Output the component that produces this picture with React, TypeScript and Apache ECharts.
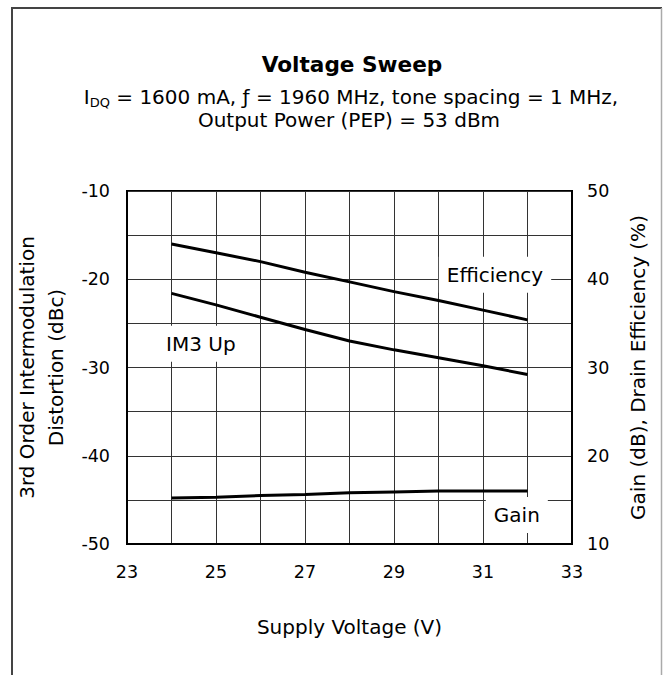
import React, { useEffect, useRef } from "react";
import * as echarts from "echarts";

const voltages = [24, 25, 26, 27, 28, 29, 30, 31, 32];
const im3Up = [-21.6, -22.9, -24.3, -25.7, -27.0, -28.0, -28.9, -29.8, -30.8];
const efficiency = [44.0, 43.0, 42.0, 40.8, 39.7, 38.6, 37.6, 36.5, 35.4];
const gain = [15.2, 15.3, 15.5, 15.6, 15.8, 15.9, 16.0, 16.0, 16.0];

const FONT = '"DejaVu Sans", sans-serif';

export default function App() {
  const ref = useRef<HTMLDivElement>(null);
  useEffect(() => {
    if (!ref.current) return;
    const chart = echarts.init(ref.current, null, { renderer: "svg" });
    const lineStyle = { color: "#000", width: 3 };
    const option: any = {
      animation: false,
      backgroundColor: "#fff",
      textStyle: { fontFamily: FONT, color: "#000" },
      grid: {
        left: 127,
        top: 191,
        width: 445,
        height: 353,
        show: true,
        borderColor: "#000",
        borderWidth: 2,
        backgroundColor: "transparent",
      },
      xAxis: {
        type: "value",
        min: 23,
        max: 33,
        interval: 1,
        name: "Supply Voltage (V)",
        nameLocation: "middle",
        nameGap: 83,
        nameTextStyle: { fontSize: 20, fontFamily: FONT, color: "#000", verticalAlign: "middle" },
        axisLine: { show: true, lineStyle: { color: "#000", width: 2 } },
        axisTick: { show: false },
        axisLabel: {
          margin: 19,
          fontSize: 17.5,
          fontFamily: FONT,
          color: "#000",
          formatter: (v: number) => (Math.abs(v % 2) === 1 ? String(v) : ""),
        },
        splitLine: { show: true, lineStyle: { color: "#333", width: 1 } },
      },
      yAxis: [
        {
          type: "value",
          min: -50,
          max: -10,
          interval: 5,
          position: "left",
          name: "3rd Order Intermodulation\nDistortion (dBc)",
          nameLocation: "middle",
          nameRotate: 90,
          nameGap: 79.5,
          nameTextStyle: {
            fontSize: 20,
            lineHeight: 29,
            fontFamily: FONT,
            color: "#000",
            align: "center",
            verticalAlign: "middle",
          },
          axisLine: { show: true, lineStyle: { color: "#000", width: 2 } },
          axisTick: { show: false },
          axisLabel: {
            margin: 17,
            fontSize: 17.5,
            fontFamily: FONT,
            color: "#000",
            formatter: (v: number) => (v % 10 === 0 ? String(v) : ""),
          },
          splitLine: { show: true, lineStyle: { color: "#333", width: 1 } },
        },
        {
          type: "value",
          min: 10,
          max: 50,
          interval: 5,
          position: "right",
          name: "Gain (dB), Drain Efficiency (%)",
          nameLocation: "middle",
          nameRotate: 90,
          nameGap: 66,
          nameTextStyle: {
            fontSize: 20,
            fontFamily: FONT,
            color: "#000",
            align: "center",
            verticalAlign: "middle",
          },
          axisLine: { show: true, lineStyle: { color: "#000", width: 2 } },
          axisTick: { show: false },
          axisLabel: {
            margin: 15,
            fontSize: 17.5,
            fontFamily: FONT,
            color: "#000",
            formatter: (v: number) => (v % 10 === 0 ? String(v) : ""),
          },
          splitLine: { show: false },
        },
      ],
      series: [
        {
          name: "IM3 Up",
          type: "line",
          yAxisIndex: 0,
          symbol: "none",
          lineStyle,
          data: voltages.map((v, i) => [v, im3Up[i]]),
        },
        {
          name: "Efficiency",
          type: "line",
          yAxisIndex: 1,
          symbol: "none",
          lineStyle,
          data: voltages.map((v, i) => [v, efficiency[i]]),
        },
        {
          name: "Gain",
          type: "line",
          yAxisIndex: 1,
          symbol: "none",
          lineStyle,
          data: voltages.map((v, i) => [v, gain[i]]),
        },
      ],
    };
    chart.setOption(option);

    const toPx = (x: number, y: number) =>
      chart.convertToPixel({ xAxisIndex: 0, yAxisIndex: 0 }, [x, y]) as number[];
    const noteStyle = (text: string, pad: number[]) => ({
      text,
      font: `20px ${FONT}`,
      fill: "#000",
      align: "center",
      verticalAlign: "middle",
      backgroundColor: "#fff",
      padding: pad,
    });
    const pEff = toPx(31.27, -19.5);
    const pIm3 = toPx(24.66, -27.3);
    const pGain = toPx(31.76, -46.7);

    chart.setOption({
      graphic: [
        { type: "line", shape: { x1: 12, y1: 8, x2: 12, y2: 680 }, style: { stroke: "#444", lineWidth: 2 } },
        { type: "line", shape: { x1: 11, y1: 8, x2: 662, y2: 8 }, style: { stroke: "#444", lineWidth: 2 } },
        { type: "line", shape: { x1: 661.5, y1: 8, x2: 661.5, y2: 680 }, style: { stroke: "#aaa", lineWidth: 1.5 } },
        {
          type: "text",
          x: 352,
          y: 64.5,
          style: {
            text: "Voltage Sweep",
            font: `bold 21.6px ${FONT}`,
            fill: "#000",
            align: "center",
            verticalAlign: "middle",
          },
        },
        {
          type: "text",
          x: 351,
          y: 97,
          style: {
            text: "{n|I}{s|DQ}{n| = 1600 mA, ƒ = 1960 MHz, tone spacing = 1 MHz,}",
            fill: "#000",
            align: "center",
            verticalAlign: "middle",
            rich: {
              n: { fontSize: 20, fontFamily: FONT, fill: "#000" },
              s: { fontSize: 13, fontFamily: FONT, fill: "#000", padding: [11, 0, 0, 0] },
            },
          },
        },
        {
          type: "text",
          x: 349,
          y: 120,
          style: {
            text: "Output Power (PEP) = 53 dBm",
            font: `20px ${FONT}`,
            fill: "#000",
            align: "center",
            verticalAlign: "middle",
          },
        },
        { type: "text", x: pEff[0], y: pEff[1], z: 10, style: noteStyle("Efficiency", [8, 8, 8, 8]) },
        { type: "text", x: pIm3[0], y: pIm3[1], z: 10, style: noteStyle("IM3 Up", [8, 5, 8, 5]) },
        { type: "text", x: pGain[0], y: pGain[1], z: 10, style: noteStyle("Gain", [8, 8, 8, 8]) },
      ],
    });

    return () => chart.dispose();
  }, []);
  return (
    <div
      ref={ref}
      style={{ position: "absolute", left: 0, top: 0, width: 663, height: 675, background: "#fff" }}
    />
  );
}
